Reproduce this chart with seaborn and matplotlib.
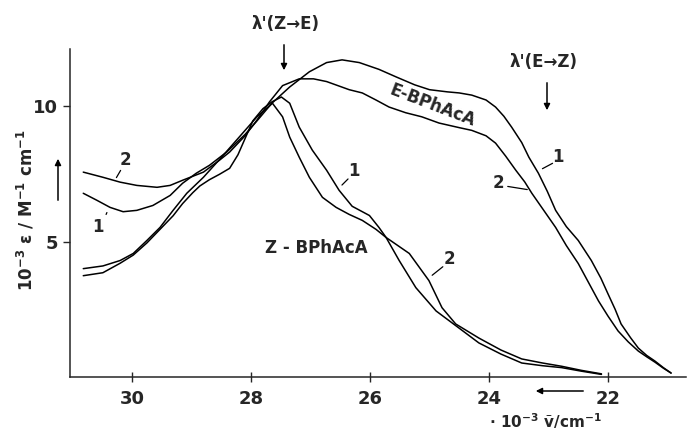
import numpy as np
import pandas as pd
import seaborn as sns
import matplotlib.pyplot as plt

# wavenumber in 10^3 cm^-1, epsilon in 10^3 M^-1 cm^-1
e1_x = [30.82, 30.59, 30.37, 30.15, 29.92, 29.65, 29.36, 29.15, 28.92, 28.70, 28.41, 28.10,
        27.90, 27.65, 27.35, 27.02, 26.73, 26.47, 26.18, 25.85, 25.56, 25.25, 25.00, 24.70,
        24.50, 24.29, 24.05, 23.89, 23.75, 23.62, 23.45, 23.33, 23.17, 23.02, 22.88, 22.70,
        22.50, 22.28, 22.12, 22.00, 21.88, 21.78, 21.62, 21.49, 21.35, 21.21, 21.07, 20.94]
e1_y = [6.78, 6.52, 6.26, 6.10, 6.15, 6.33, 6.70, 7.15, 7.52, 7.81, 8.30, 8.95,
        9.45, 10.10, 10.70, 11.26, 11.60, 11.70, 11.60, 11.35, 11.07, 10.78, 10.60, 10.52,
        10.48, 10.40, 10.22, 9.96, 9.62, 9.22, 8.65, 8.11, 7.52, 6.85, 6.15, 5.55,
        5.04, 4.30, 3.65, 3.07, 2.50, 1.96, 1.45, 1.07, 0.80, 0.59, 0.35, 0.15]

e2_x = [30.82, 30.49, 30.20, 29.92, 29.58, 29.36, 29.15, 28.80, 28.53, 28.36, 28.10, 27.90,
        27.69, 27.47, 27.19, 26.95, 26.73, 26.35, 26.13, 25.90, 25.68, 25.40, 25.13, 24.84,
        24.50, 24.29, 24.05, 23.89, 23.72, 23.55, 23.40, 23.28, 23.08, 22.88, 22.70, 22.50,
        22.33, 22.16, 22.00, 21.83, 21.66, 21.49, 21.35, 21.21, 21.07, 20.94]
e2_y = [7.56, 7.37, 7.19, 7.07, 7.00, 7.07, 7.26, 7.56, 8.00, 8.30, 8.90, 9.48,
        10.15, 10.75, 11.00, 11.00, 10.90, 10.60, 10.48, 10.22, 9.96, 9.75, 9.60, 9.37,
        9.20, 9.10, 8.90, 8.63, 8.15, 7.63, 7.20, 6.78, 6.15, 5.52, 4.85, 4.19,
        3.50, 2.81, 2.25, 1.70, 1.30, 0.96, 0.75, 0.55, 0.33, 0.15]

z1_x = [30.82, 30.49, 30.20, 29.98, 29.75, 29.53, 29.31, 29.15, 28.98, 28.86, 28.70, 28.53,
        28.36, 28.22, 28.10, 27.97, 27.80, 27.65, 27.49, 27.35, 27.19, 26.97, 26.73, 26.52,
        26.30, 26.01, 25.85, 25.73, 25.51, 25.23, 24.89, 24.56, 24.17, 23.80, 23.45, 23.10,
        22.78, 22.45, 22.11]
z1_y = [3.74, 3.85, 4.20, 4.50, 4.95, 5.45, 5.95, 6.40, 6.80, 7.05, 7.28, 7.48,
        7.70, 8.20, 8.80, 9.45, 9.90, 10.15, 10.33, 10.10, 9.22, 8.37, 7.63, 6.89,
        6.30, 5.96, 5.52, 5.15, 4.30, 3.30, 2.44, 1.90, 1.26, 0.85, 0.52, 0.42,
        0.35, 0.22, 0.10]

z2_x = [30.82, 30.49, 30.20, 29.98, 29.75, 29.53, 29.31, 29.08, 28.80, 28.50, 28.14, 27.90,
        27.64, 27.47, 27.35, 27.19, 27.02, 26.80, 26.57, 26.35, 26.13, 25.90, 25.73, 25.34,
        25.01, 24.79, 24.56, 24.17, 23.80, 23.45, 23.10, 22.78, 22.45, 22.11]
z2_y = [4.00, 4.10, 4.30, 4.56, 5.04, 5.52, 6.15, 6.78, 7.37, 8.10, 9.00, 9.60,
        10.10, 9.60, 8.85, 8.11, 7.37, 6.63, 6.26, 6.00, 5.78, 5.45, 5.15, 4.56,
        3.56, 2.56, 1.96, 1.44, 1.00, 0.67, 0.52, 0.40, 0.25, 0.12]

xticks = [30, 28, 26, 24, 22]
yticks = [5, 10]

sns.set_style("ticks")
plt.rcParams['font.family'] = ['DejaVu Sans']
plt.rcParams['mathtext.default'] = 'regular'

fig = plt.figure(figsize=(6.88, 4.3), dpi=100)
ax = fig.add_axes([0.102, 0.123, 0.895, 0.763])

for xs, ys in [(e1_x, e1_y), (e2_x, e2_y), (z1_x, z1_y), (z2_x, z2_y)]:
    sns.lineplot(x=xs, y=ys, ax=ax, color='black', lw=1.1, sort=False)

ax.set_xlim(31.04, 20.69)
ax.set_ylim(0, 12.1)
ax.set_xticks(xticks)
ax.set_yticks(yticks)
ax.tick_params(axis='x', direction='inout', length=7, width=1, labelsize=13, pad=6)
ax.tick_params(axis='y', direction='out', length=5, width=1, labelsize=13)
for lab in ax.get_xticklabels() + ax.get_yticklabels():
    lab.set_fontweight('bold')
sns.despine(ax=ax)
for s in ['left', 'bottom']:
    ax.spines[s].set_linewidth(1.1)


def fp(x, y):
    return (x / 688, 1 - y / 430)


# curve names
ax.text(26.9, 4.75, "Z - BPhAcA", fontsize=12, ha='center', va='center', fontweight='bold')
ax.text(24.95, 10.02, "E-BPhAcA", fontsize=12, ha='center', va='center', rotation=-21,
        fontweight='bold')

# curve numbers with leader lines (label pos, line start, line end) in pixels
labels = [("2", (125, 160), (122, 168), (115, 180)),
          ("1", (98, 227), (105, 217), (108, 210)),
          ("1", (354, 171), (350, 177), (340, 187)),
          ("2", (449, 259), (445, 265), (430, 277)),
          ("1", (558, 157), (555, 162), (540, 170)),
          ("2", (498, 183), (505, 186), (530, 190))]
for t, pos, p0, p1 in labels:
    fig.text(*fp(*pos), t, fontsize=12, ha='center', va='center', fontweight='bold')
    ax.annotate("", xy=fp(*p1), xytext=fp(*p0), xycoords='figure fraction',
                textcoords='figure fraction', arrowprops=dict(arrowstyle='-', lw=0.9, color='black'))

# lambda markers
fig.text(*fp(285, 24), "λ'(Z→E)", fontsize=12, ha='center', va='center', fontweight='bold')
fig.text(*fp(543, 62), "λ'(E→Z)", fontsize=12, ha='center', va='center', fontweight='bold')
arrow = dict(arrowstyle='-|>', lw=1.1, color='black', mutation_scale=9)
ax.annotate("", xy=fp(284, 73), xytext=fp(284, 42), xycoords='figure fraction',
            textcoords='figure fraction', arrowprops=arrow)
ax.annotate("", xy=fp(547, 113), xytext=fp(547, 80), xycoords='figure fraction',
            textcoords='figure fraction', arrowprops=arrow)

# axis labels and direction arrows
fig.text(*fp(26, 210), r"$10^{-3}$ ε / M$^{-1}$ cm$^{-1}$", fontsize=12,
         rotation=90, ha='center', va='center', fontweight='bold')
ax.annotate("", xy=fp(58, 156), xytext=fp(58, 203), xycoords='figure fraction',
            textcoords='figure fraction', arrowprops=arrow)
fig.text(*fp(545, 421), r"$\cdot$ $10^{-3}$ ṽ/cm$^{-1}$", fontsize=11, ha='center', va='center',
         fontweight='bold')
ax.annotate("", xy=fp(533, 391), xytext=fp(586, 391), xycoords='figure fraction',
            textcoords='figure fraction', arrowprops=arrow)

fig.savefig("out.png", dpi=100)
